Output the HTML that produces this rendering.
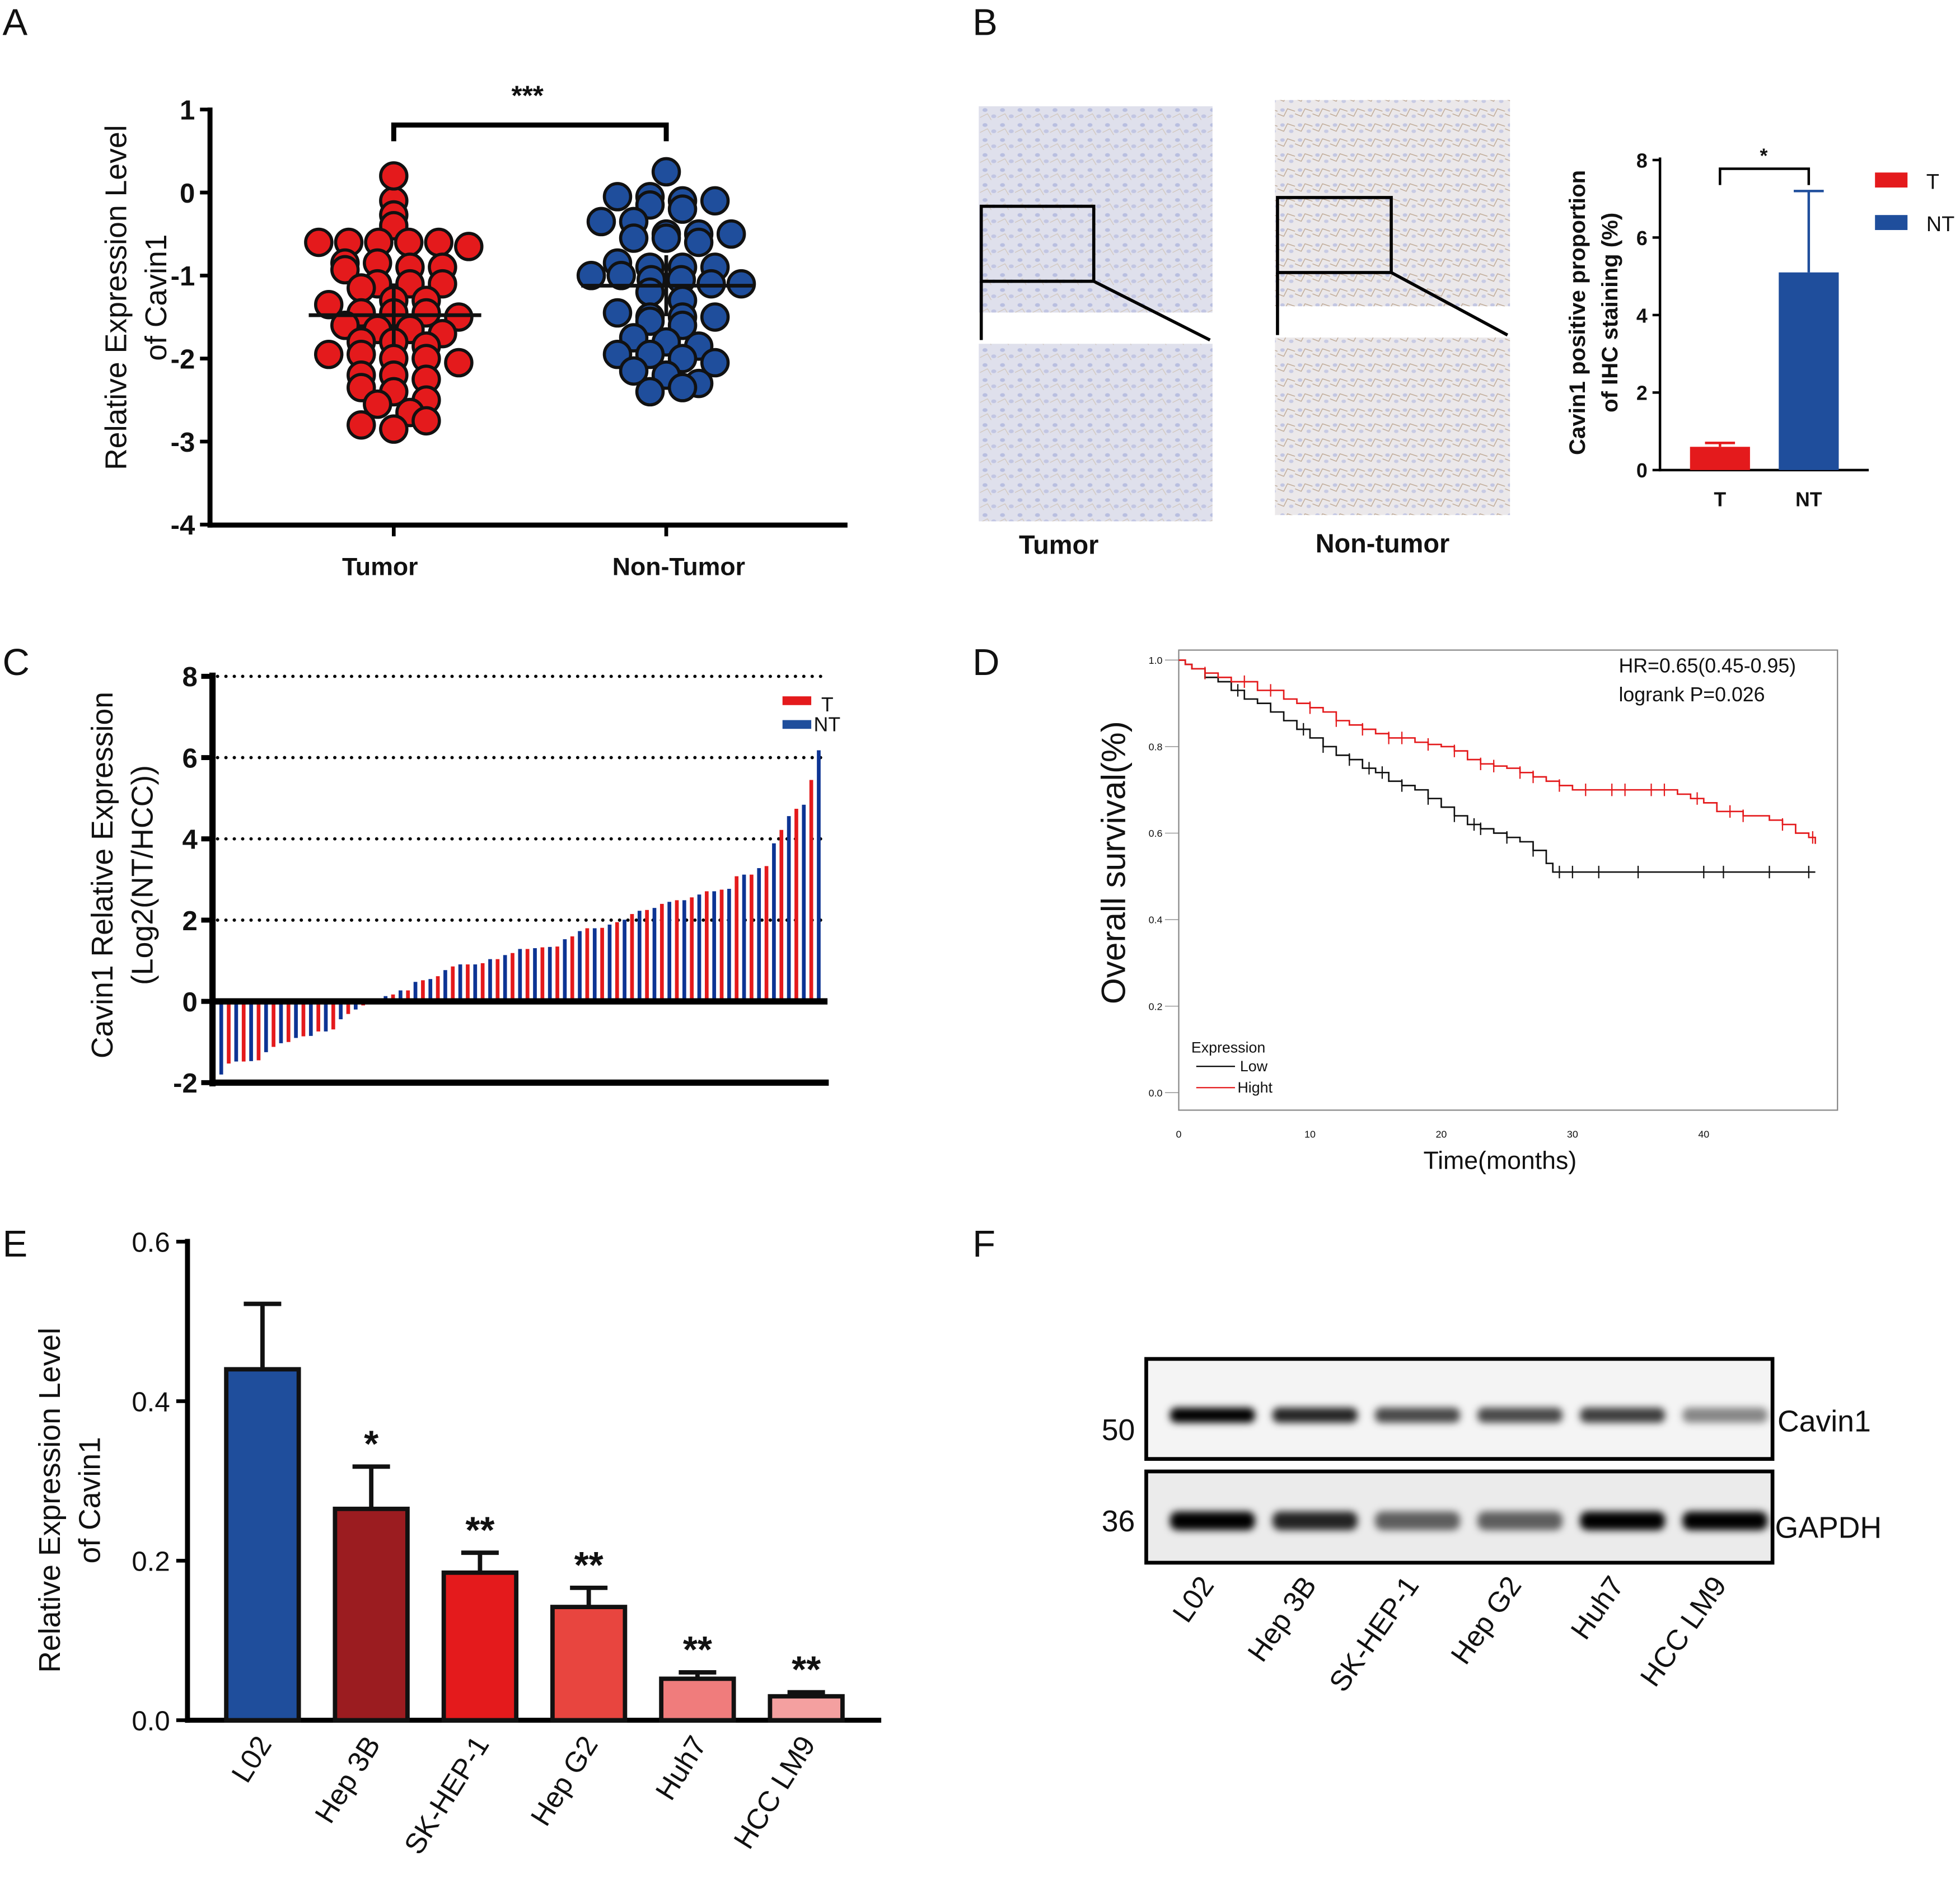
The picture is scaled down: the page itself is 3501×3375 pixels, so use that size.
<!DOCTYPE html>
<html><head><meta charset="utf-8"><style>
html,body{margin:0;padding:0;background:#fff}
svg{display:block}
text{font-family:"Liberation Sans",Arial,sans-serif;fill:#111}
.b{font-weight:bold}
</style></head><body>
<svg id="fig" xmlns="http://www.w3.org/2000/svg" width="3501" height="3375" viewBox="0 0 1568 1511" preserveAspectRatio="none">
<defs>
<pattern id="tis" width="14" height="12" patternUnits="userSpaceOnUse">
<rect width="14" height="12" fill="#dfe0ec"/>
<ellipse cx="4" cy="4" rx="2" ry="1.5" fill="#b9bfe0"/>
<ellipse cx="11" cy="9" rx="2" ry="1.5" fill="#c2c6e3"/>
<path d="M0 10 L6 7 L9 12" stroke="#d0c3b4" stroke-width="0.5" fill="none"/>
</pattern>
<pattern id="tis2" width="14" height="12" patternUnits="userSpaceOnUse">
<rect width="14" height="12" fill="#ebe8ea"/>
<ellipse cx="4" cy="4" rx="1.8" ry="1.4" fill="#c2c6e2"/>
<ellipse cx="11" cy="9" rx="1.8" ry="1.4" fill="#c8cbe4"/>
<path d="M0 7 L5 9 L8 3 L14 5" stroke="#bca58f" stroke-width="0.6" fill="none"/>
</pattern>
<filter id="blur"><feGaussianBlur stdDeviation="3"/></filter>
</defs>

<!-- Panel A -->
<g>
<text x="2" y="28" font-size="30">A</text>
<line x1="168" y1="86" x2="168" y2="422" stroke="#000" stroke-width="4"/>
<line x1="166" y1="420" x2="678" y2="420" stroke="#000" stroke-width="4"/>
<g id="aTicks"></g>
<line x1="315" y1="420" x2="315" y2="429" stroke="#000" stroke-width="3"/>
<line x1="533" y1="420" x2="533" y2="429" stroke="#000" stroke-width="3"/>
<text x="304" y="460" font-size="20" text-anchor="middle" class="b">Tumor</text>
<text x="543" y="460" font-size="20" text-anchor="middle" class="b">Non-Tumor</text>
<text transform="translate(101,238) rotate(-90)" font-size="24" text-anchor="middle">Relative Expression Level</text>
<text transform="translate(133,238) rotate(-90)" font-size="24" text-anchor="middle">of Cavin1</text>
<path d="M315,113 V100 H533 V113" stroke="#000" stroke-width="4" fill="none"/>
<text x="422" y="84" font-size="22" text-anchor="middle" class="b">***</text>
<g id="aDots"></g>
</g>

<!-- Panel B -->
<g>
<text x="778" y="28" font-size="30">B</text>
<rect x="783" y="85" width="187" height="165" fill="url(#tis)"/>
<rect x="785" y="165" width="90" height="60" fill="none" stroke="#000" stroke-width="2.5"/>
<path d="M785,225 V272 M875,225 L968,272" stroke="#000" stroke-width="2.5" fill="none"/>
<rect x="783" y="275" width="187" height="142" fill="url(#tis)"/>
<rect x="1020" y="80" width="188" height="165" fill="url(#tis2)"/>
<rect x="1022" y="158" width="91" height="60" fill="none" stroke="#000" stroke-width="2.5"/>
<path d="M1022,218 V268 M1113,218 L1206,268" stroke="#000" stroke-width="2.5" fill="none"/>
<rect x="1020" y="270" width="188" height="142" fill="url(#tis2)"/>
<text x="847" y="443" font-size="21" text-anchor="middle" class="b">Tumor</text>
<text x="1106" y="442" font-size="21" text-anchor="middle" class="b">Non-tumor</text>
<line x1="1328" y1="126" x2="1328" y2="377" stroke="#000" stroke-width="2"/>
<line x1="1327" y1="376" x2="1495" y2="376" stroke="#000" stroke-width="2"/>
<g id="bTicks"></g>
<g id="bBars"></g>
<text x="1376" y="405" font-size="16" text-anchor="middle" class="b">T</text>
<text x="1447" y="405" font-size="16" text-anchor="middle" class="b">NT</text>
<text transform="translate(1268,250) rotate(-90)" font-size="18" text-anchor="middle" class="b">Cavin1 positive proportion</text>
<text transform="translate(1294,250) rotate(-90)" font-size="18" text-anchor="middle" class="b">of IHC staining (%)</text>
<path d="M1376,148 V135 H1447 V148" stroke="#000" stroke-width="2" fill="none"/>
<text x="1411" y="130" font-size="16" text-anchor="middle" class="b">*</text>
<rect x="1500" y="138" width="26" height="12" fill="#e41a1c"/>
<text x="1541" y="151" font-size="17">T</text>
<rect x="1500" y="172" width="26" height="12" fill="#1f4e9c"/>
<text x="1541" y="185" font-size="17">NT</text>
</g>

<!-- Panel C -->
<g>
<text x="2" y="540" font-size="30">C</text>
<g id="cGrid"></g>
<g id="cBars"></g>
<line x1="170" y1="538" x2="170" y2="869" stroke="#000" stroke-width="5"/>
<line x1="168" y1="866" x2="663" y2="866" stroke="#000" stroke-width="5"/>
<line x1="168" y1="801" x2="662" y2="801" stroke="#000" stroke-width="5"/>
<g id="cTicks"></g>
<text transform="translate(90,700) rotate(-90)" font-size="24" text-anchor="middle">Cavin1 Relative Expression</text>
<text transform="translate(122,700) rotate(-90)" font-size="24" text-anchor="middle">(Log2(NT/HCC))</text>
<rect x="626" y="557" width="23" height="7" fill="#e41a1c"/>
<text x="657" y="569" font-size="16">T</text>
<rect x="626" y="576" width="23" height="7" fill="#1f4e9c"/>
<text x="651" y="585" font-size="16">NT</text>
</g>

<!-- Panel D -->
<g>
<text x="778" y="540" font-size="30">D</text>
<rect x="943" y="520" width="527" height="368" fill="none" stroke="#888" stroke-width="1"/>
<g id="dTicks"></g>
<g id="dCurves"></g>
<text x="1200" y="935" font-size="20" text-anchor="middle">Time(months)</text>
<text transform="translate(900,690) rotate(-90)" font-size="27" text-anchor="middle">Overall survival(%)</text>
<text x="1295" y="538" font-size="16">HR=0.65(0.45-0.95)</text>
<text x="1295" y="561" font-size="16">logrank P=0.026</text>
<text x="953" y="842" font-size="12">Expression</text>
<line x1="957" y1="853" x2="988" y2="853" stroke="#000" stroke-width="1"/>
<text x="992" y="857" font-size="12">Low</text>
<line x1="957" y1="870" x2="988" y2="870" stroke="#e41a1c" stroke-width="1"/>
<text x="990" y="874" font-size="12">Hight</text>
</g>

<!-- Panel E -->
<g>
<text x="2" y="1005" font-size="30">E</text>
<line x1="150" y1="991" x2="150" y2="1378" stroke="#000" stroke-width="4"/>
<line x1="148" y1="1376" x2="705" y2="1376" stroke="#000" stroke-width="4"/>
<g id="eTicks"></g>
<g id="eBars"></g>
<text transform="translate(48,1200) rotate(-90)" font-size="24" text-anchor="middle">Relative Expression Level</text>
<text transform="translate(80,1200) rotate(-90)" font-size="24" text-anchor="middle">of Cavin1</text>
</g>

<!-- Panel F -->
<g>
<text x="778" y="1005" font-size="30">F</text>
<rect x="917" y="1087" width="501" height="80" fill="#f4f4f4" stroke="#000" stroke-width="3"/>
<rect x="917" y="1177" width="501" height="73" fill="#ebebeb" stroke="#000" stroke-width="3"/>
<g id="fBands" filter="url(#blur)"></g>
<text x="1422" y="1145" font-size="24">Cavin1</text>
<text x="1420" y="1230" font-size="24">GAPDH</text>
<text x="908" y="1152" font-size="24" text-anchor="end">50</text>
<text x="908" y="1225" font-size="24" text-anchor="end">36</text>
<g id="fLabels"></g>
</g>
</svg>
<script>
var NS="http://www.w3.org/2000/svg";
function mk(parent,tag,attrs,txt){var e=document.createElementNS(NS,tag);for(var k in attrs)e.setAttribute(k,attrs[k]);if(txt!==undefined)e.textContent=txt;document.getElementById(parent).appendChild(e);return e;}

// ---- Panel A data ----
var aTumor=[0.2,-0.1,-0.27,-0.4,-0.6,-0.6,-0.6,-0.6,-0.6,-0.65,-0.85,-0.85,-0.9,-0.9,-0.93,-1.1,-1.1,-1.1,-1.15,-1.3,-1.3,-1.35,-1.45,-1.45,-1.45,-1.5,-1.6,-1.65,-1.65,-1.7,-1.8,-1.8,-1.85,-1.95,-1.95,-2.0,-2.0,-2.05,-2.2,-2.2,-2.25,-2.35,-2.4,-2.5,-2.55,-2.65,-2.8,-2.85,-2.75];
var aNonTumor=[0.25,-0.05,-0.05,-0.1,-0.1,-0.15,-0.2,-0.35,-0.35,-0.5,-0.5,-0.5,-0.55,-0.55,-0.6,-0.85,-0.9,-0.9,-0.9,-1.0,-1.0,-1.05,-1.05,-1.1,-1.1,-1.2,-1.3,-1.45,-1.5,-1.5,-1.5,-1.55,-1.6,-1.75,-1.8,-1.85,-1.95,-1.95,-2.0,-2.05,-2.15,-2.2,-2.3,-2.4,-2.35];
var aTicks=[1,0,-1,-2,-3,-4];
function aY(v){return 154-v*66.4;}
aTicks.forEach(function(t){
 var l=mk('aTicks','line',{x1:160,x2:168,y1:aY(t),y2:aY(t),stroke:'#000','stroke-width':3});
 
 
 var tx=mk('aTicks','text',{x:156,y:aY(t)+8,'font-size':22,'text-anchor':'end','class':'b'},String(t));
 
 
});
function mean(a){return a.reduce(function(s,v){return s+v;},0)/a.length;}
function sd(a){var m=mean(a);return Math.sqrt(a.reduce(function(s,v){return s+(v-m)*(v-m);},0)/(a.length-1));}
function swarm(vals,cx,color,nm){
 var bins={};
 vals.forEach(function(v){var k=Math.round(v/0.2);(bins[k]=bins[k]||[]).push(v);});
 Object.keys(bins).forEach(function(k){
  var arr=bins[k],n=arr.length;
  var sp=n>1?Math.min(26,120/(n-1)):0;
  arr.forEach(function(v,i){
   var off=(i-(n-1)/2)*sp;
   var c=mk('aDots','circle',{cx:cx+off,cy:aY(v),r:10.5,fill:color,stroke:'#111','stroke-width':2.5});
   
   
  });
 });
 var m=mean(vals),s=sd(vals)*0.5;
 var ml=mk('aDots','line',{x1:cx-68,x2:cx+70,y1:aY(m),y2:aY(m),stroke:'#111','stroke-width':3});
 
 
 var el=mk('aDots','line',{x1:cx,x2:cx,y1:aY(m+s),y2:aY(m-s),stroke:'#111','stroke-width':3});
 
 
}
swarm(aTumor,315,'#e41a1c','tumor');
swarm(aNonTumor,533,'#1f4e9c','nontumor');

// ---- Panel B data ----
var bCats=['T','NT'];
var bVals=[0.6,5.1];
var bErr=[0.7,7.2];
var bTicks=[0,2,4,6,8];
var bColors=['#e41a1c','#1f4e9c'];
function bY(v){return 376-v*31;}
bTicks.forEach(function(t){
 var l=mk('bTicks','line',{x1:1322,x2:1328,y1:bY(t),y2:bY(t),stroke:'#000','stroke-width':2});
 
 
 var tx=mk('bTicks','text',{x:1318,y:bY(t)+6,'font-size':16,'text-anchor':'end','class':'b'},String(t));
 
 
});
bCats.forEach(function(c,i){
 var cx=1376+i*71;
 var e=mk('bBars','path',{d:'M'+cx+','+bY(bVals[i])+' V'+bY(bErr[i])+' M'+(cx-12)+','+bY(bErr[i])+' H'+(cx+12),stroke:bColors[i],'stroke-width':2,fill:'none'});
 
 
 var r=mk('bBars','rect',{x:cx-24,y:bY(bVals[i]),width:48,height:bY(0)-bY(bVals[i]),fill:bColors[i]});
 
 
});

// ---- Panel C data ----
var cVals=[-1.8,-1.53,-1.48,-1.48,-1.47,-1.45,-1.25,-1.12,-1.03,-1.0,-0.9,-0.86,-0.85,-0.74,-0.74,-0.69,-0.44,-0.31,-0.2,-0.1,0.0,0.05,0.13,0.17,0.27,0.27,0.48,0.52,0.55,0.62,0.77,0.86,0.91,0.91,0.91,0.94,1.04,1.04,1.14,1.19,1.29,1.29,1.31,1.33,1.34,1.35,1.53,1.6,1.73,1.8,1.8,1.81,1.89,1.95,2.01,2.15,2.23,2.25,2.3,2.4,2.45,2.49,2.49,2.56,2.63,2.71,2.71,2.75,2.77,3.08,3.12,3.12,3.28,3.33,3.89,4.22,4.56,4.74,4.84,5.45,6.18];
var cTicks=[8,6,4,2,0,-2];
var cGridVals=[8,6,4,2];
function cY(v){return 801-v*32.5;}
function cX(i){return 177+i*(478/(cVals.length-1));}
cGridVals.forEach(function(g){
 var l=mk('cGrid','line',{x1:174,x2:662,y1:cY(g),y2:cY(g),stroke:'#000','stroke-width':2.6,'stroke-dasharray':'0.1 6.6','stroke-linecap':'round'});
 
 
});
cTicks.forEach(function(t){
 var l=mk('cTicks','line',{x1:161,x2:170,y1:cY(t),y2:cY(t),stroke:'#000','stroke-width':4});
 
 
 var tx=mk('cTicks','text',{x:158,y:cY(t)+8,'font-size':22,'text-anchor':'end','class':'b'},String(t));
 
 
});
cVals.forEach(function(v,i){
 var y0=cY(0),y1=cY(v);
 var r=mk('cBars','rect',{x:cX(i)-1.5,y:Math.min(y0,y1),width:3,height:Math.abs(y1-y0),fill:(i%2?'#e41a1c':'#0d3494')});
 
 
});

// ---- Panel D data ----
var dLowT=[0,0.5,1,2,3,4,5,6,7,8,9,10,11,12,13,14,15,16,17,18,19,20,21,22,23,24,25,26,27,28,28.5,48.5];
var dLowS=[1,0.99,0.98,0.96,0.95,0.93,0.91,0.9,0.88,0.86,0.84,0.82,0.8,0.78,0.77,0.75,0.74,0.72,0.71,0.7,0.68,0.66,0.64,0.62,0.61,0.6,0.59,0.58,0.56,0.53,0.51,0.51];
var dHighT=[0,0.5,1,2,3,4,6,8,9,10,11,12,13,14,15,16,18,19,20,21,22,23,24,25,26,27,28,29,30,38,39,40,41,43,45,46,47,48,48.5];
var dHighS=[1,0.99,0.98,0.97,0.96,0.95,0.93,0.91,0.9,0.89,0.88,0.86,0.85,0.84,0.83,0.82,0.81,0.805,0.8,0.79,0.77,0.76,0.755,0.75,0.74,0.73,0.72,0.71,0.7,0.69,0.68,0.67,0.65,0.64,0.63,0.62,0.6,0.59,0.575];
var dLowCens=[4.5,9.5,11,13,14.5,15.5,17,19,21,22.5,23,25,27,29,30,32,35,40,41.5,45,48];
var dHighCens=[2,5,7,10,12,14,16,17,19,21,23,24,26,27,29,31,33,34,36,37,39.5,42,43,46,48.3];
var dYTicks=[0,0.2,0.4,0.6,0.8,1.0];
var dXTicks=[0,10,20,30,40];
function dX(t){return 943+t*10.5;}
function dY(s){return 874-s*346;}
dYTicks.forEach(function(t){
 var tx=mk('dTicks','text',{x:930,y:dY(t)+3,'font-size':8,'text-anchor':'end'},t.toFixed(1));
 
 
 var l=mk('dTicks','line',{x1:932,x2:943,y1:dY(t),y2:dY(t),stroke:'#888','stroke-width':0.6});
 
 
});
dXTicks.forEach(function(t){
 var tx=mk('dTicks','text',{x:dX(t),y:910,'font-size':8,'text-anchor':'middle'},String(t));
 
 
});
function stepAt(T,S,t){var s=S[0];for(var i=0;i<T.length;i++){if(T[i]<=t)s=S[i];}return s;}
function curve(T,S,C,color,nm){
 var d='M'+dX(T[0])+','+dY(S[0]);
 for(var i=1;i<T.length;i++){d+=' H'+dX(T[i])+' V'+dY(S[i]);}
 var p=mk('dCurves','path',{d:d,stroke:color,'stroke-width':1.2,fill:'none'});
 
 
 C.forEach(function(t){
  var y=dY(stepAt(T,S,t));
  var c=mk('dCurves','line',{x1:dX(t),x2:dX(t),y1:y-5,y2:y+5,stroke:color,'stroke-width':1});
  
  
 });
}
curve(dLowT,dLowS,dLowCens,'#111','low');
curve(dHighT,dHighS,dHighCens,'#e41a1c','high');

// ---- Panel E data ----
var eCats=['L02','Hep 3B','SK-HEP-1','Hep G2','Huh7','HCC LM9'];
var eVals=[0.44,0.265,0.185,0.142,0.052,0.03];
var eErr=[0.522,0.318,0.21,0.166,0.06,0.035];
var eSig=['','*','**','**','**','**'];
var eTicks=[0.0,0.2,0.4,0.6];
var eColors=['#1f4e9c','#9b1c20','#e41a1c','#e8453f','#f07c7c','#f4a0a0'];
function eY(v){return 1376-v*638;}
function eX(i){return 210+i*87;}
eTicks.forEach(function(t){
 var l=mk('eTicks','line',{x1:141,x2:150,y1:eY(t),y2:eY(t),stroke:'#000','stroke-width':3});
 
 
 var tx=mk('eTicks','text',{x:136,y:eY(t)+8,'font-size':22,'text-anchor':'end'},t.toFixed(1));
 
 
});
eCats.forEach(function(c,i){
 var cx=eX(i);
 var e=mk('eBars','path',{d:'M'+cx+','+eY(eVals[i])+' V'+eY(eErr[i])+' M'+(cx-15)+','+eY(eErr[i])+' H'+(cx+15),stroke:'#111','stroke-width':3.5,fill:'none'});
 
 
 var r=mk('eBars','rect',{x:cx-29,y:eY(eVals[i]),width:58,height:eY(0)-eY(eVals[i]),fill:eColors[i],stroke:'#111','stroke-width':3.5});
 
 
 if(eSig[i]){
  var s=mk('eBars','text',{x:cx,y:eY(eErr[i])-8,'font-size':30,'text-anchor':'middle','class':'b'},eSig[i]);
  
  
 }
 var lb=mk('eBars','text',{transform:'translate('+(cx+8)+',1395) rotate(-58)','font-size':23,'text-anchor':'end'},c);
 
 
});

// ---- Panel F data ----
var fLanes=['L02','Hep 3B','SK-HEP-1','Hep G2','Huh7','HCC LM9'];
var fCavin=[1.0,0.85,0.7,0.7,0.75,0.45];
var fGapdh=[1.0,0.85,0.6,0.6,1.0,1.0];
function fX(i){return 970+i*82;}
fLanes.forEach(function(n,i){
 var a=mk('fBands','rect',{x:fX(i)-34,y:1126,width:68,height:12,rx:5,fill:'#000','fill-opacity':fCavin[i]});
 
 
 var g=mk('fBands','rect',{x:fX(i)-34,y:1209,width:68,height:15,rx:6,fill:'#000','fill-opacity':fGapdh[i]});
 
 
 var lb=mk('fLabels','text',{transform:'translate('+(fX(i)+2)+',1268) rotate(-55)','font-size':23,'text-anchor':'end'},n);
 
 
});
</script>
</body></html>
